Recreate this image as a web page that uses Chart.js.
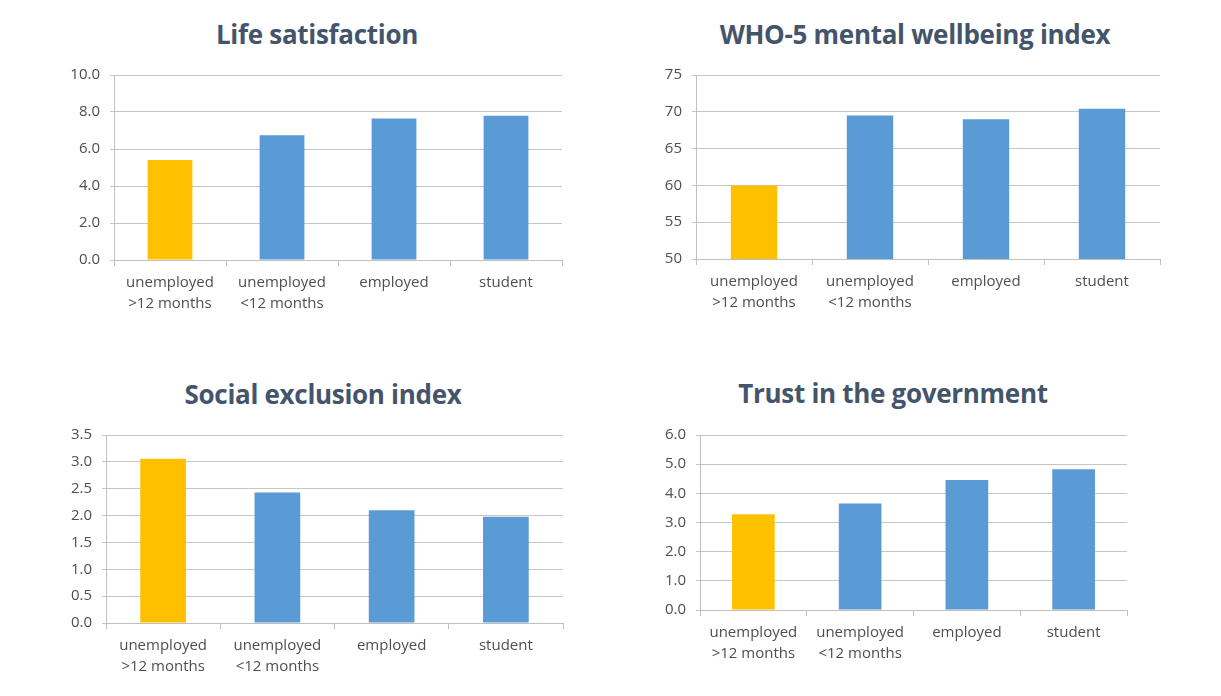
<!DOCTYPE html>
<html>
<head>
<meta charset="utf-8">
<script src="https://cdn.jsdelivr.net/npm/chart.js@4.4.0/dist/chart.umd.min.js"></script>
<style>
  body { margin: 0; background: #fff; width: 1221px; height: 696px; position: relative; overflow: hidden; }
  .box { position: absolute; }
  .title {
    position: absolute; width: 500px; text-align: center;
    font-family: "Open Sans", sans-serif; font-weight: bold; font-size: 26px;
    letter-spacing: -0.3px;
    line-height: 30px; color: #44546a; white-space: nowrap;
  }
</style>
</head>
<body>
<div class="title" style="left:67px; top:19px;">Life satisfaction</div>
<div class="title" style="left:665px; top:19px;">WHO-5 mental wellbeing index</div>
<div class="title" style="left:73px; top:379px;">Social exclusion index</div>
<div class="title" style="left:643px; top:378px;">Trust in the government</div>

<div class="box" id="b1"><canvas id="c1"></canvas></div>
<div class="box" id="b2"><canvas id="c2"></canvas></div>
<div class="box" id="b3"><canvas id="c3"></canvas></div>
<div class="box" id="b4"><canvas id="c4"></canvas></div>

<script>
// Data
const categories = [['unemployed', '>12 months'], ['unemployed', '<12 months'], 'employed', 'student'];
const lifeSatisfaction = [5.4, 6.75, 7.65, 7.8];
const who5Index = [60.0, 69.5, 69.0, 70.4];
const socialExclusion = [3.06, 2.43, 2.10, 1.98];
const trustGovernment = [3.28, 3.65, 4.46, 4.83];
const barColors = ['#ffc000', '#5b9bd5', '#5b9bd5', '#5b9bd5'];

// the top tick label pushes the plot area ~18px below the canvas top
const Y_W = 50, X_H = 60, TOP_GAP = 18, PAD_R = 5;

// place the canvas so the plot area lands where it should
function place(boxId, plotL, plotT, plotR, plotB) {
    const box = document.getElementById(boxId);
    const left = plotL - Y_W;
    const top = plotT - TOP_GAP;
    box.style.left = left + 'px';
    box.style.top = top + 'px';
    box.style.width = (plotR - left + PAD_R) + 'px';
    box.style.height = (plotB - top + X_H) + 'px';
}

function makeChart(canvasId, values, min, max, step, decimals) {
    const ctx = document.getElementById(canvasId).getContext('2d');
    return new Chart(ctx, {
        type: 'bar',
        data: {
            labels: categories,
            datasets: [{
                data: values,
                backgroundColor: barColors,
                barPercentage: 0.8,
                categoryPercentage: 0.5
            }]
        },
        options: {
            responsive: true,
            maintainAspectRatio: false,
            animation: false,
            layout: { padding: { top: 0, right: PAD_R, left: 0, bottom: 0 } },
            plugins: {
                legend: { display: false },
                tooltip: { enabled: false }
            },
            scales: {
                x: {
                    afterFit: s => { s.height = X_H; },
                    grid: {
                        offset: true,
                        drawOnChartArea: false,
                        color: '#bfbfbf',
                        tickLength: 6
                    },
                    border: { color: '#bfbfbf' },
                    ticks: {
                        color: '#4f4f4f',
                        font: { family: 'Open Sans', size: 15, lineHeight: 1.4 },
                        padding: 6,
                        maxRotation: 0
                    }
                },
                y: {
                    min: min,
                    max: max,
                    afterFit: s => { s.width = Y_W; },
                    grid: { color: '#c6c6c6', tickLength: 4 },
                    border: { color: '#bfbfbf' },
                    ticks: {
                        stepSize: step,
                        color: '#4f4f4f',
                        font: { family: 'Open Sans', size: 15 },
                        padding: 10,
                        callback: v => v.toFixed(decimals)
                    }
                }
            }
        }
    });
}

place('b1', 114, 74, 562, 260);
place('b2', 696, 74, 1160, 259);
place('b3', 106, 434, 563, 623);
place('b4', 700, 434, 1127, 610);

makeChart('c1', lifeSatisfaction, 0, 10, 2, 1);
makeChart('c2', who5Index, 50, 75, 5, 0);
makeChart('c3', socialExclusion, 0, 3.5, 0.5, 1);
makeChart('c4', trustGovernment, 0, 6, 1, 1);
</script>
</body>
</html>
